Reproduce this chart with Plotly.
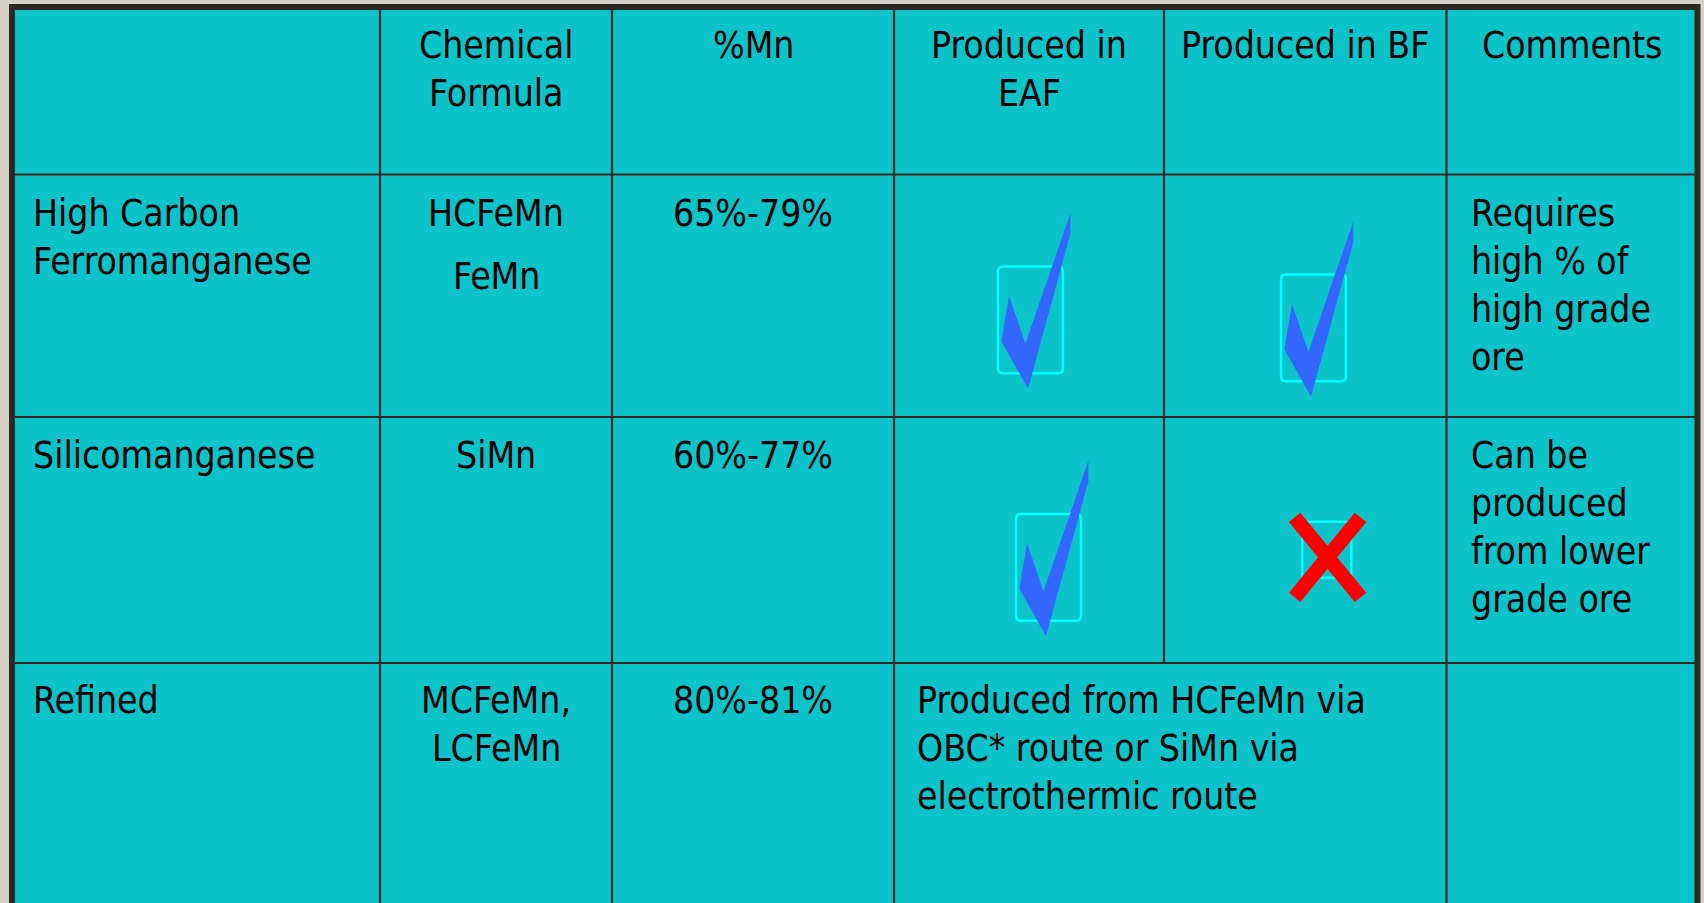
import plotly.graph_objects as go

# ---------------- data ----------------
header = [[""], ["Chemical", "Formula"], ["%Mn"], ["Produced in", "EAF"], ["Produced in BF"], ["Comments"]]
products = [["High Carbon", "Ferromanganese"], ["Silicomanganese"], ["Refined"]]
formulas = [[["HCFeMn"], ["FeMn"]], [["SiMn"]], [["MCFeMn,", "LCFeMn"]]]
mn_range = ["65%-79%", "60%-77%", "80%-81%"]
produced_eaf = [True, True, None]
produced_bf = [True, False, None]
refined_note = ["Produced from HCFeMn via", "OBC* route or SiMn via", "electrothermic route"]
comments = [["Requires", "high % of", "high grade", "ore"],
            ["Can be", "produced", "from lower", "grade ore"],
            []]

# ---------------- layout / style ----------------
W, H = 1704, 903
col_edges = [12, 380, 612, 894, 1164, 1446.5, 1697.5]
row_edges = [7, 174.5, 417, 663, 903]
TEAL = "#0bc3c8"
LINE = "#2a2a24"
BG = "#d4d2c8"
FONT = "DejaVu Sans Condensed, Liberation Sans Narrow, sans-serif"
FS = 37
LSP = 48            # line spacing
PARA = 15           # extra paragraph spacing
first_base = [51, 51.5, 51, 50]   # first baseline offset from row top
pad_left = 20

# icon offsets (box top-left relative to cell top-left)
check_off = {(0, 3): (104, 92), (0, 4): (117, 100), (1, 3): (122, 97)}
cross_off = {(1, 4): (125, 105)}

fig = go.Figure()
shapes = []
annotations = []

def ann(x, base, text, anchor):
    annotations.append(dict(x=x, y=base - 0.3465 * FS, text=text, showarrow=False,
                            xanchor=anchor, yanchor="middle", borderpad=0,
                            font=dict(family=FONT, size=FS, color="#000000")))

# table background
shapes.append(dict(type="rect", x0=col_edges[0], x1=col_edges[-1], y0=row_edges[0], y1=H + 10,
                   fillcolor=TEAL, line=dict(width=0), layer="below"))

# inner vertical lines
for ci in range(1, len(col_edges) - 1):
    x = col_edges[ci]
    for ri in range(len(row_edges) - 1):
        if ri == 3 and ci == 4:
            continue  # merged cell in last row
        shapes.append(dict(type="line", x0=x, x1=x, y0=row_edges[ri], y1=row_edges[ri + 1],
                           line=dict(color=LINE, width=2.2)))
# inner horizontal lines
for ri in range(1, len(row_edges) - 1):
    shapes.append(dict(type="line", x0=col_edges[0], x1=col_edges[-1], y0=row_edges[ri], y1=row_edges[ri],
                       line=dict(color=LINE, width=2.2)))
# outer border (left, top, right)
shapes.append(dict(type="path", path=f"M {col_edges[0]} {H + 10} L {col_edges[0]} {row_edges[0]} "
                                     f"L {col_edges[-1]} {row_edges[0]} L {col_edges[-1]} {H + 10}",
                   line=dict(color=LINE, width=6)))

def center(ci):
    return (col_edges[ci] + col_edges[ci + 1]) / 2

# header
for ci, lines in enumerate(header):
    for k, t in enumerate(lines):
        if t:
            ann(center(ci), row_edges[0] + first_base[0] + k * LSP, t, "center")

for ri in range(3):
    top = row_edges[ri + 1]
    b0 = top + first_base[ri + 1]
    for k, t in enumerate(products[ri]):
        ann(col_edges[0] + pad_left, b0 + k * LSP, t, "left")
    y = b0
    for p, para in enumerate(formulas[ri]):
        for k, t in enumerate(para):
            ann(center(1), y, t, "center")
            y += LSP
        y += PARA
    ann(center(2), b0, mn_range[ri], "center")
    for k, t in enumerate(comments[ri]):
        ann(col_edges[5] + pad_left + 3, b0 + k * LSP, t, "left")
    if ri == 2:
        for k, t in enumerate(refined_note):
            ann(col_edges[3] + pad_left + 2, b0 + k * LSP, t, "left")

# icons
def rounded_box(x0, y0, w, h, r=5):
    return (f"M {x0 + r} {y0} L {x0 + w - r} {y0} Q {x0 + w} {y0} {x0 + w} {y0 + r} "
            f"L {x0 + w} {y0 + h - r} Q {x0 + w} {y0 + h} {x0 + w - r} {y0 + h} "
            f"L {x0 + r} {y0 + h} Q {x0} {y0 + h} {x0} {y0 + h - r} "
            f"L {x0} {y0 + r} Q {x0} {y0} {x0 + r} {y0} Z")

CHECK = [(72.4, -53.3), (72.4, -32.7), (30, 122.3), (3.4, 74.7), (11, 29.3), (27.4, 77.3)]
def draw_check(ri, ci):
    ox, oy = check_off[(ri, ci)]
    x0 = col_edges[ci] + ox
    y0 = row_edges[ri + 1] + oy
    shapes.append(dict(type="path", path=rounded_box(x0, y0, 65, 106.7), line=dict(color="#00ffff", width=2.5)))
    pts = " L ".join(f"{x0 + dx} {y0 + dy}" for dx, dy in CHECK)
    shapes.append(dict(type="path", path=f"M {pts} Z", fillcolor="#3366ff", line=dict(width=0)))

ARM1 = [(0, 0), (11.3, -9.3), (77.3, 70.7), (65.7, 80)]
ARM2 = [(65.7, -9.3), (77.3, 0), (11.3, 80), (0, 70.7)]
def draw_cross(ri, ci):
    ox, oy = cross_off[(ri, ci)]
    x0 = col_edges[ci] + ox
    y0 = row_edges[ri + 1] + oy
    shapes.append(dict(type="path", path=rounded_box(x0 + 13.3, y0 - 0.3, 49, 56, r=3),
                       line=dict(color="#00ffff", width=2.5)))
    for arm in (ARM1, ARM2):
        pts = " L ".join(f"{x0 + dx} {y0 + dy}" for dx, dy in arm)
        shapes.append(dict(type="path", path=f"M {pts} Z", fillcolor="#ff0000", line=dict(width=0)))

for ri in range(3):
    if produced_eaf[ri]:
        draw_check(ri, 3)
    if produced_bf[ri] is True:
        draw_check(ri, 4)
    elif produced_bf[ri] is False:
        draw_cross(ri, 4)

fig.update_layout(
    width=W, height=H, margin=dict(l=0, r=0, t=0, b=0),
    paper_bgcolor=BG, plot_bgcolor=BG,
    xaxis=dict(range=[0, W], visible=False, fixedrange=True),
    yaxis=dict(range=[H, 0], visible=False, fixedrange=True),
    shapes=shapes, annotations=annotations, showlegend=False,
)
fig.write_html("out.html", config={"displayModeBar": False},
               post_script="document.body.style.margin='0';document.body.style.overflow='hidden';")
